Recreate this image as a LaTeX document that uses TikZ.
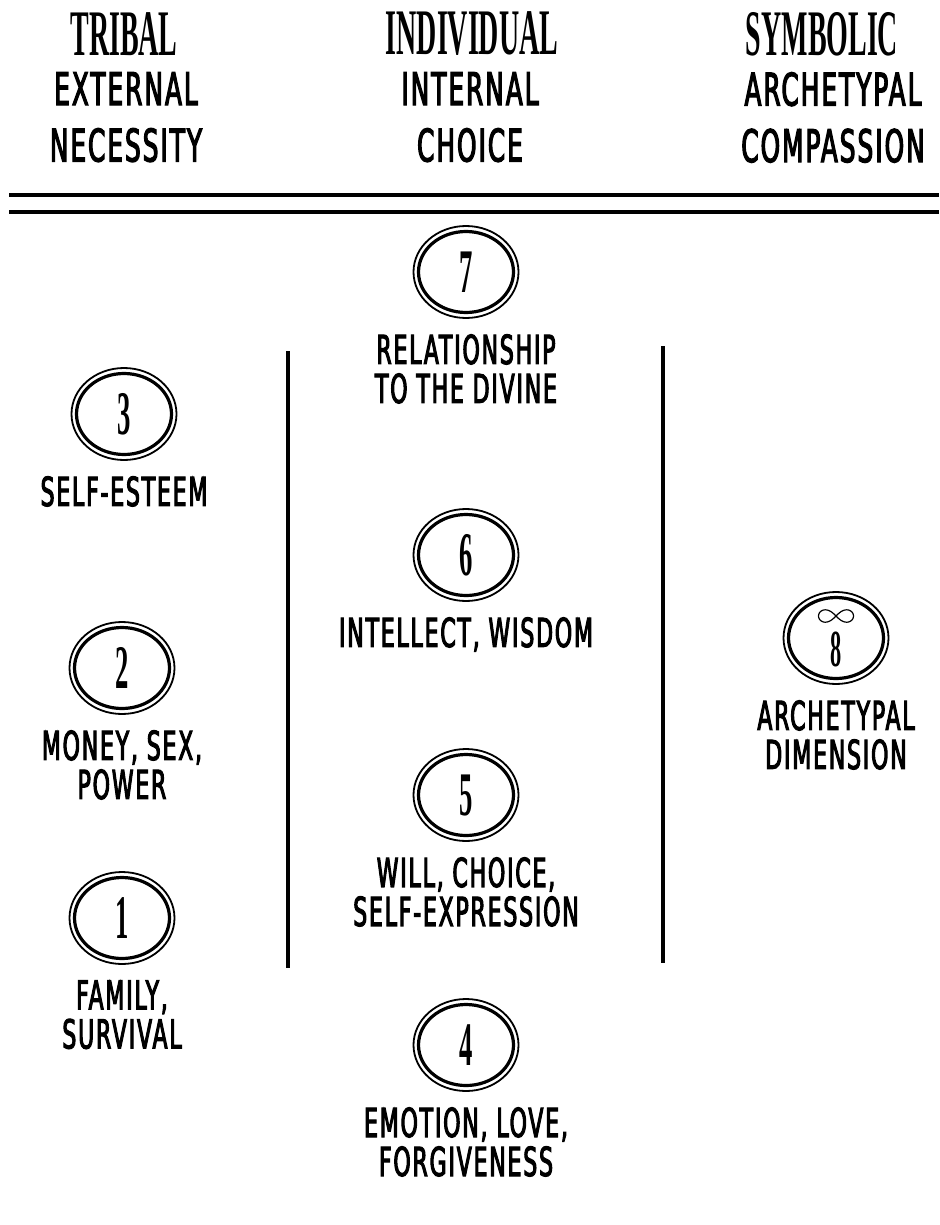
\documentclass[tikz,border=0pt]{standalone}
\usepackage{fontspec}
\usetikzlibrary{positioning}
\usetikzlibrary{shapes.geometric}
\newfontfamily\lblfont{DejaVu Sans}[FakeStretch=0.55, FakeBold=2.5, LetterSpace=4.5]
\newfontfamily\numfont{Liberation Serif Bold}[FakeStretch=0.43]
\tikzset{ring/.style={ellipse, draw, line width=3.2pt, minimum width=95pt,
    minimum height=81pt, inner sep=0pt,
    font=\numfont\fontsize{62}{62}\selectfont}}
\tikzset{outring/.style={line width=1.8pt}}
\tikzset{lbl/.style={inner sep=0pt, align=center,
    font=\lblfont\fontsize{40}{39}\selectfont}}
\tikzset{title/.style={inner sep=0pt, font=\numfont\fontsize{65}{65}\selectfont}}
\tikzset{subtitle/.style={inner sep=0pt, anchor=north, align=center,
    font=\lblfont\fontsize{45}{56.5}\selectfont}}
\tikzset{rule/.style={line width=4pt}}

\begin{document}
\begin{tikzpicture}[x=1pt, y=-1pt]
  \useasboundingbox (0,0) rectangle (939,1225);
  % header
  \node[title] (tribal) at (124,34) {TRIBAL};
  \node[subtitle] (tribalsub) at (126,72) {EXTERNAL\\NECESSITY};
  \node[title] (indiv) at (472,34) {INDIVIDUAL};
  \node[subtitle] (indivsub) at (470,72) {INTERNAL\\CHOICE};
  \node[title] (symb) at (822,34) {SYMBOLIC};
  \node[subtitle] (symbsub) at (833,72) {ARCHETYPAL\\COMPASSION};
  \draw[rule] (9,195) -- (939,195);
  \draw[rule] (9,212) -- (939,212);
  % column rules
  \draw[rule] (288,351) -- (288,968);
  \draw[rule] (663,346) -- (663,963);
  % centres
  \foreach \n/\cx/\cy/\txt in {3/124/414/{SELF-ESTEEM},
      2/122/668/{MONEY, SEX,\\POWER},
      1/122/918/{FAMILY,\\SURVIVAL},
      7/466/272/{RELATIONSHIP\\TO THE DIVINE},
      6/466/555/{INTELLECT, WISDOM},
      5/466/795/{WILL, CHOICE,\\SELF-EXPRESSION},
      4/466/1045/{EMOTION, LOVE,\\FORGIVENESS}} {
    \node[ring] (c\n) at (\cx,\cy) {\n};
    \draw[outring] (c\n.center) ellipse [x radius=52.5, y radius=46];
    \node[lbl, below=20pt of c\n] (l\n) {\txt};
  }
  % eighth
  \node[ring] (c8) at (836,638) {};
  \draw[outring] (c8.center) ellipse [x radius=52.5, y radius=46];
  \node[inner sep=0pt, font=\numfont\fontsize{52}{52}\selectfont]
    (d8) at ([yshift=-11pt]c8.center) {8};
  \draw[line width=1.2pt, shift={(c8.center)}]
    plot[domain=0:360, samples=73, smooth, variable=\t]
    ({17.5*cos(\t)/(1+(sin(\t))^2)}, {-22+17.5*sin(\t)*cos(\t)/(1+(sin(\t))^2)});
  \node[lbl, below=20pt of c8] (l8) {ARCHETYPAL\\DIMENSION};
\end{tikzpicture}
\end{document}
